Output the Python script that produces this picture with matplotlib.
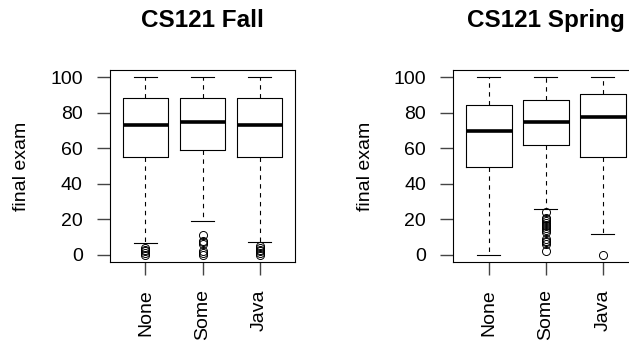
import matplotlib
matplotlib.use("Agg")
import matplotlib.pyplot as plt

plt.rcParams['font.family'] = ['Liberation Sans', 'DejaVu Sans']

categories = ["None", "Some", "Java"]
titles = ["CS121 Fall", "CS121 Spring"]
ylabel = "final exam"
yticks = [0, 20, 40, 60, 80, 100]

# Fall: whislo, q1, med, q3, whishi, outliers
fall_whislo = [6.5, 18.8, 7.5]
fall_q1 = [55, 59.2, 55]
fall_med = [73, 75, 73]
fall_q3 = [88, 88, 88]
fall_whishi = [100, 100, 100]
fall_fliers = [[4, 3, 2, 1, 0],
               [11, 8, 7, 6, 2, 1, 0],
               [5, 4, 3, 2, 1, 0]]

spring_whislo = [0, 25.8, 12]
spring_q1 = [49.6, 62, 54.9]
spring_med = [69.5, 74.8, 77.8]
spring_q3 = [84.2, 87.2, 90.4]
spring_whishi = [100, 100, 100]
spring_fliers = [[],
                 [24, 21, 20, 19, 18, 17, 16, 15, 14, 13, 9, 8, 7, 6, 2],
                 [0]]

W, H = 629, 345
fig = plt.figure(figsize=(W / 100, H / 100), dpi=100)

def make_stats(wl, q1, med, q3, wh, fl):
    out = []
    for i in range(len(categories)):
        out.append(dict(label=categories[i], whislo=wl[i], q1=q1[i], med=med[i],
                        q3=q3[i], whishi=wh[i], fliers=fl[i]))
    return out

panels = [
    (110, make_stats(fall_whislo, fall_q1, fall_med, fall_q3, fall_whishi, fall_fliers)),
    (453.3, make_stats(spring_whislo, spring_q1, spring_med, spring_q3, spring_whishi, spring_fliers)),
]

ax_w = 185
top_px, bot_px = 70, 262
for k, (left_px, stats) in enumerate(panels):
    ax = fig.add_axes([left_px / W, 1 - bot_px / H, ax_w / W, (bot_px - top_px) / H])
    ax.bxp(stats, positions=[1, 2, 3], widths=0.8, capwidths=0.4,
           boxprops=dict(color='black', linewidth=0.8),
           medianprops=dict(color='black', linewidth=2.6, solid_capstyle='butt'),
           whiskerprops=dict(color='black', linewidth=0.8, linestyle=(0, (4, 4))),
           capprops=dict(color='black', linewidth=0.8),
           flierprops=dict(marker='o', markersize=5.8, markerfacecolor='none',
                           markeredgecolor='black', markeredgewidth=0.7),
           manage_ticks=False)
    ax.set_xlim(0.38, 3.62)
    ax.set_ylim(-4, 104)
    ax.set_yticks(yticks)
    ax.set_yticklabels([str(v) for v in yticks], fontsize=14)
    ax.set_xticks([1, 2, 3])
    ax.set_xticklabels(categories, fontsize=14, rotation=90)
    ax.tick_params(axis='both', direction='out', length=9.6, width=1.0,
                   color='#444444', pad=10)
    for s in ax.spines.values():
        s.set_linewidth(0.8)
        s.set_color('black')
    cx = (left_px + ax_w / 2) / W
    fig.text(cx, 1 - 20.5 / H, titles[k], ha='center', va='center',
             fontsize=17.5, fontweight='bold')
    fig.text((left_px - 88) / W, 1 - 166 / H, ylabel, rotation=90,
             ha='center', va='center', fontsize=14)

fig.savefig("out.png", dpi=100)
